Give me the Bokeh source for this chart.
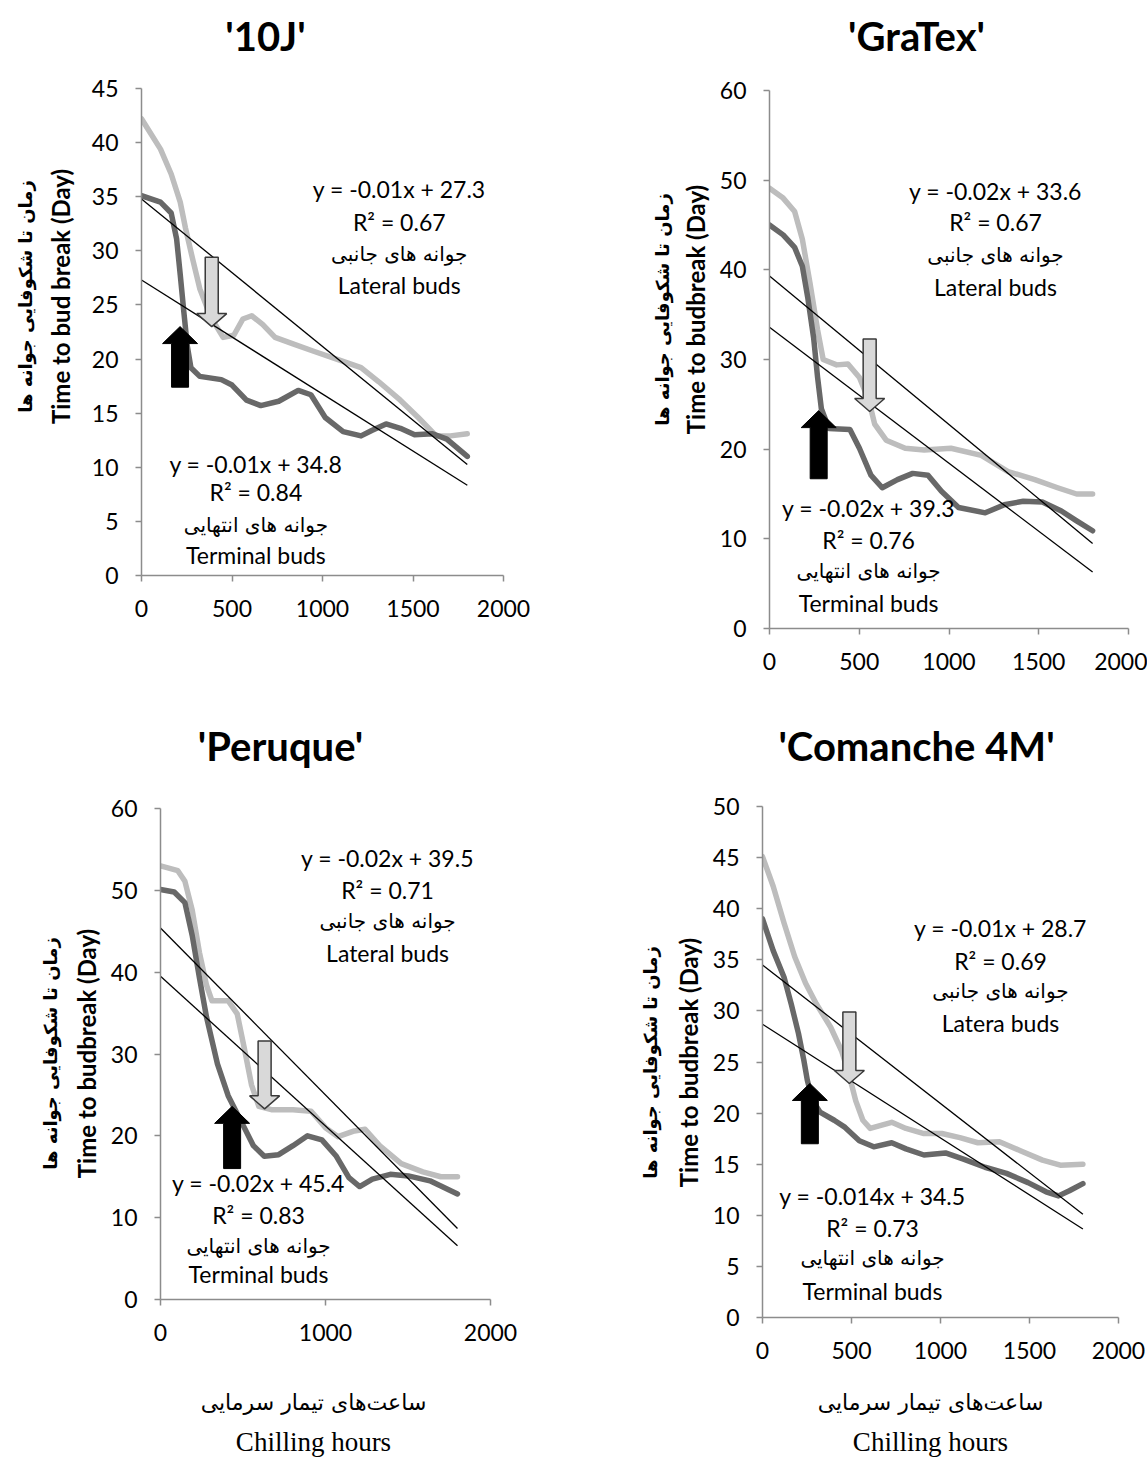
import math
from bokeh.plotting import figure
from bokeh.layouts import column, row
from bokeh.models import Label, SingleIntervalTicker, PolyAnnotation, Range1d
from bokeh.embed import file_html
from bokeh.resources import INLINE

LATIN = "Lato"
PERSIAN = "DejaVu Sans"
LIGHT = "#bdbdbd"
DARK = "#686868"

# ---------------- data ----------------
TITLES = ["'10J'", "'GraTex'", "'Peruque'", "'Comanche 4M'"]
Y_LABEL_FA = "زمان تا شکوفایی جوانه ها"
Y_LABELS_EN = ["Time to bud break (Day)", "Time to budbreak (Day)",
               "Time to budbreak (Day)", "Time to budbreak (Day)"]
X_LABEL_FA = "ساعت‌های تیمار سرمایی"
X_LABEL_EN = "Chilling hours"
LATERAL_FA = "جوانه های جانبی"
TERMINAL_FA = "جوانه های انتهایی"
LATERAL_EN = ["Lateral buds", "Lateral buds", "Lateral buds", "Latera buds"]
TERMINAL_EN = "Terminal buds"

# '10J'
X_10J_TERM = [0, 105, 164, 194, 214, 233, 253, 273, 322, 441, 500, 580, 659, 758, 866, 936,
              1015, 1114, 1213, 1272, 1351, 1430, 1509, 1608, 1687, 1800]
Y_10J_TERM = [35.1, 34.5, 33.5, 31.1, 27.8, 24.5, 21.2, 19.2, 18.4, 18.1, 17.6, 16.2, 15.7, 16.1,
              17.1, 16.7, 14.6, 13.3, 12.9, 13.4, 14.0, 13.6, 13.0, 13.1, 12.6, 11.0]
X_10J_LAT = [0, 105, 164, 214, 243, 283, 322, 382, 451, 510, 560, 609, 669, 738, 837, 955,
             1094, 1213, 1311, 1430, 1529, 1628, 1707, 1800]
Y_10J_LAT = [42.2, 39.4, 37.1, 34.5, 32.1, 29.2, 26.5, 23.9, 22.0, 22.2, 23.7, 24.0, 23.2, 22.0,
             21.4, 20.7, 19.9, 19.2, 17.9, 16.2, 14.6, 12.9, 12.9, 13.1]
EQ_10J_LAT = ["y = -0.01x + 27.3", "R² = 0.67"]
EQ_10J_TERM = ["y = -0.01x + 34.8", "R² = 0.84"]
TREND_10J_B = [34.8, 27.3]
TREND_10J_M = [-0.01363, -0.01053]

# 'GraTex'
X_GT_TERM = [0, 76, 140, 183, 214, 246, 268, 289, 331, 448, 501, 565, 628, 713, 798, 883,
             958, 1053, 1202, 1308, 1414, 1520, 1626, 1711, 1800]
Y_GT_TERM = [45.0, 43.9, 42.5, 40.4, 36.8, 32.4, 28.0, 24.5, 22.3, 22.2, 20.1, 17.1, 15.7, 16.6,
             17.3, 17.1, 15.3, 13.5, 12.9, 13.8, 14.2, 14.1, 13.1, 12.0, 10.9]
X_GT_LAT = [0, 76, 140, 183, 225, 268, 299, 374, 437, 501, 554, 586, 650, 756, 862, 1011,
            1180, 1329, 1478, 1605, 1711, 1800]
Y_GT_LAT = [49.1, 48.0, 46.5, 43.4, 38.6, 33.3, 30.0, 29.4, 29.5, 28.0, 25.4, 22.8, 21.0, 20.1,
            19.9, 20.1, 19.3, 17.5, 16.6, 15.7, 15.0, 15.0]
EQ_GT_LAT = ["y = -0.02x + 33.6", "R² = 0.67"]
EQ_GT_TERM = ["y = -0.02x + 39.3", "R² = 0.76"]
TREND_GT_B = [39.3, 33.6]
TREND_GT_M = [-0.01656, -0.01517]

# 'Peruque'
X_PQ_TERM = [0, 83, 148, 192, 236, 279, 345, 410, 498, 563, 629, 716, 803, 891, 978, 1066,
             1142, 1207, 1284, 1393, 1502, 1633, 1800]
Y_PQ_TERM = [50.1, 49.8, 48.5, 44.5, 39.3, 34.5, 28.8, 24.9, 21.4, 18.8, 17.5, 17.7, 18.8, 20.0,
             19.5, 17.5, 14.9, 13.8, 14.7, 15.3, 15.1, 14.5, 12.9]
X_PQ_LAT = [0, 105, 148, 192, 236, 279, 312, 410, 465, 509, 552, 596, 672, 803, 913, 1000,
            1076, 1175, 1240, 1328, 1459, 1590, 1699, 1800]
Y_PQ_LAT = [53.0, 52.4, 51.1, 47.6, 42.4, 38.4, 36.5, 36.5, 34.9, 30.6, 26.2, 23.6, 23.2, 23.2,
            23.0, 21.0, 19.9, 20.6, 20.8, 18.8, 16.6, 15.6, 15.0, 15.0]
EQ_PQ_LAT = ["y = -0.02x + 39.5", "R² = 0.71"]
EQ_PQ_TERM = ["y = -0.02x + 45.4", "R² = 0.83"]
TREND_PQ_B = [45.4, 39.5]
TREND_PQ_M = [-0.0204, -0.0183]

# 'Comanche 4M'
X_CM_TERM = [0, 60, 121, 161, 202, 232, 252, 282, 323, 403, 464, 544, 625, 726, 806, 907,
             1028, 1129, 1250, 1371, 1492, 1593, 1663, 1724, 1800]
Y_CM_TERM = [39.0, 35.9, 33.3, 30.7, 27.8, 25.2, 23.2, 21.2, 20.1, 19.3, 18.6, 17.3, 16.7, 17.1,
             16.5, 15.9, 16.1, 15.5, 14.7, 14.1, 13.2, 12.3, 11.9, 12.4, 13.1]
X_CM_LAT = [0, 60, 121, 181, 242, 302, 383, 444, 484, 524, 564, 605, 665, 726, 806, 907,
            1008, 1109, 1210, 1331, 1452, 1573, 1673, 1800]
Y_CM_LAT = [45.1, 42.2, 38.6, 35.3, 32.7, 30.7, 28.4, 26.1, 23.9, 21.2, 19.3, 18.5, 18.8, 19.1,
            18.5, 18.0, 18.0, 17.6, 17.1, 17.2, 16.3, 15.4, 14.9, 15.0]
EQ_CM_LAT = ["y = -0.01x + 28.7", "R² = 0.69"]
EQ_CM_TERM = ["y = -0.014x + 34.5", "R² = 0.73"]
TREND_CM_B = [34.5, 28.7]
TREND_CM_M = [-0.01356, -0.01113]

TREND_X = [0, 1800]

# ---------------- layout settings (pixels) ----------------
PANELS = [
    dict(title=TITLES[0], colw=573, th=70, title_xy=(265, 35),
         sw=86, mh=630, bl=55, br=70, bt=18, bb=125, ymax=45, ystep=5, xstep=500,
         ylab_x=(60, 25), ylab_y=404,
         xt=X_10J_TERM, yt=Y_10J_TERM, xl=X_10J_LAT, yl=Y_10J_LAT, b=TREND_10J_B, m=TREND_10J_M,
         eql=EQ_10J_LAT, eqt=EQ_10J_TERM, lat_en=LATERAL_EN[0], yen=Y_LABELS_EN[0],
         lat_pos=(1424, [35.7, 32.7, 29.7, 26.8]), term_pos=(632, [10.3, 7.7, 4.7, 1.85]),
         gray=(388, 29.4, 23.0), black=(213, 17.4, 23.0), bh=0),
    dict(title=TITLES[1], colw=574, th=70, title_xy=(343, 35),
         sw=141, mh=630, bl=55, br=19, bt=20, bb=72, ymax=60, ystep=10, xstep=500,
         ylab_x=(122, 89), ylab_y=391,
         xt=X_GT_TERM, yt=Y_GT_TERM, xl=X_GT_LAT, yl=Y_GT_LAT, b=TREND_GT_B, m=TREND_GT_M,
         eql=EQ_GT_LAT, eqt=EQ_GT_TERM, lat_en=LATERAL_EN[1], yen=Y_LABELS_EN[1],
         lat_pos=(1259, [48.8, 45.3, 41.7, 38.1]), term_pos=(552, [13.4, 9.9, 6.4, 2.8]),
         gray=(558, 32.3, 24.2), black=(274, 16.7, 24.3), bh=0),
    dict(title=TITLES[2], colw=573, th=70, title_xy=(280, 25),
         sw=105, mh=603, bl=55, br=83, bt=38, bb=74, ymax=60, ystep=10, xstep=1000,
         ylab_x=(86, 50), ylab_y=320,
         xt=X_PQ_TERM, yt=Y_PQ_TERM, xl=X_PQ_LAT, yl=Y_PQ_LAT, b=TREND_PQ_B, m=TREND_PQ_M,
         eql=EQ_PQ_LAT, eqt=EQ_PQ_TERM, lat_en=LATERAL_EN[2], yen=Y_LABELS_EN[2],
         lat_pos=(1376, [53.9, 50.0, 46.2, 42.3]), term_pos=(594, [14.2, 10.3, 6.5, 3.1]),
         gray=(631, 31.6, 23.3), black=(434, 16.0, 23.6), bh=84, xlab=(313, 55, 16)),
    dict(title=TITLES[3], colw=574, th=70, title_xy=(343, 25),
         sw=134, mh=603, bl=55, br=29, bt=36, bb=56, ymax=50, ystep=5, xstep=500,
         ylab_x=(115, 77), ylab_y=311,
         xt=X_CM_TERM, yt=Y_CM_TERM, xl=X_CM_LAT, yl=Y_CM_LAT, b=TREND_CM_B, m=TREND_CM_M,
         eql=EQ_CM_LAT, eqt=EQ_CM_TERM, lat_en=LATERAL_EN[3], yen=Y_LABELS_EN[3],
         lat_pos=(1337, [38.1, 34.9, 31.9, 28.8]), term_pos=(618, [11.9, 8.8, 5.8, 2.6]),
         gray=(488, 29.9, 22.9), black=(266, 17.0, 22.9), bh=84, xlab=(357, 55, 16)),
]


def label(p, x, y, s, font, size, units="data", bold=False, angle=0.0):
    p.add_layout(Label(x=x, y=y, x_units=units, y_units=units, text=s, text_font=font,
                       text_font_size=size, text_font_style="bold" if bold else "normal",
                       text_align="center", text_baseline="middle", text_color="#000000",
                       angle=angle))


def strip(w, h):
    s = figure(width=w, height=h, x_range=Range1d(0, 1), y_range=Range1d(0, 1),
               x_axis_type=None, y_axis_type=None, output_backend="svg",
               toolbar_location=None, min_border=0, frame_align=False)
    s.outline_line_color = None
    s.xgrid.visible = False
    s.ygrid.visible = False
    s.border_fill_color = "white"
    return s


def block_arrow(p, cfg, spec, shaft_px, head_px, len_px, fill, line, lw):
    mw = cfg["colw"] - cfg["sw"]
    fw = mw - cfg["bl"] - cfg["br"]
    fh = cfg["mh"] - cfg["bt"] - cfg["bb"]
    kx = fw / 2000.0
    ky = fh / float(cfg["ymax"])
    xc, ytail, ytip = spec
    sgn = 1 if ytip > ytail else -1
    sw = shaft_px / kx / 2
    hw = head_px / kx / 2
    ybase = ytip - sgn * len_px / ky
    xs = [xc - sw, xc - sw, xc - hw, xc, xc + hw, xc + sw, xc + sw]
    ys = [ytail, ybase, ybase, ytip, ybase, ybase, ytail]
    p.add_layout(PolyAnnotation(xs=xs, ys=ys, fill_color=fill, fill_alpha=1.0,
                                line_color=line, line_width=lw, line_alpha=1.0))


def make_main(cfg):
    p = figure(width=cfg["colw"] - cfg["sw"], height=cfg["mh"], x_range=Range1d(0, 2000),
               y_range=Range1d(0, cfg["ymax"]), output_backend="svg", toolbar_location=None,
               min_border_left=cfg["bl"], min_border_right=cfg["br"],
               min_border_top=cfg["bt"], min_border_bottom=cfg["bb"], frame_align=False)
    p.outline_line_color = None
    p.xgrid.visible = False
    p.ygrid.visible = False
    p.border_fill_color = "white"

    p.xaxis.ticker = SingleIntervalTicker(interval=cfg["xstep"])
    p.yaxis.ticker = SingleIntervalTicker(interval=cfg["ystep"])
    for ax in (p.xaxis[0], p.yaxis[0]):
        ax.axis_line_color = "#8c8c8c"
        ax.axis_line_width = 1.5
        ax.major_tick_line_color = "#8c8c8c"
        ax.major_tick_line_width = 1.5
        ax.minor_tick_line_color = None
        ax.major_tick_in = 0
        ax.major_tick_out = 6
        ax.major_label_text_font = LATIN
        ax.major_label_text_font_size = "23px"
        ax.major_label_text_color = "#000000"
    p.xaxis.major_label_standoff = 18
    p.yaxis.major_label_standoff = 17

    # curves
    p.line(cfg["xl"], cfg["yl"], line_width=5.5, line_color=LIGHT, line_join="round", line_cap="round")
    p.line(cfg["xt"], cfg["yt"], line_width=5.5, line_color=DARK, line_join="round", line_cap="round")
    # trend lines
    for b, m in zip(cfg["b"], cfg["m"]):
        p.line(TREND_X, [b + m * x for x in TREND_X], line_width=1.3, line_color="black")

    # arrows
    block_arrow(p, cfg, cfg["gray"], 13, 30, 13, "#d9d9d9", "#3a3a3a", 1.5)
    block_arrow(p, cfg, cfg["black"], 17, 35, 17, "#000000", "#000000", 1)

    # annotations
    lx, lys = cfg["lat_pos"]
    label(p, lx, lys[0], cfg["eql"][0], LATIN, "23px")
    label(p, lx, lys[1], cfg["eql"][1], LATIN, "23px")
    label(p, lx, lys[2], LATERAL_FA, PERSIAN, "20px")
    label(p, lx, lys[3], cfg["lat_en"], LATIN, "23px")
    tx, tys = cfg["term_pos"]
    label(p, tx, tys[0], cfg["eqt"][0], LATIN, "23px")
    label(p, tx, tys[1], cfg["eqt"][1], LATIN, "23px")
    label(p, tx, tys[2], TERMINAL_FA, PERSIAN, "20px")
    label(p, tx, tys[3], TERMINAL_EN, LATIN, "23px")
    return p


def make_panel(cfg):
    title = strip(cfg["colw"], cfg["th"])
    label(title, cfg["title_xy"][0], cfg["title_xy"][1], cfg["title"], LATIN, "40px",
          units="screen", bold=True)

    ys = strip(cfg["sw"], cfg["mh"])
    label(ys, cfg["ylab_x"][0], cfg["ylab_y"], cfg["yen"], LATIN, "24px", units="screen",
          bold=True, angle=math.pi / 2)
    label(ys, cfg["ylab_x"][1], cfg["ylab_y"], Y_LABEL_FA, PERSIAN, "18px", units="screen",
          bold=True, angle=math.pi / 2)

    parts = [title, row(ys, make_main(cfg))]
    if cfg["bh"]:
        bot = strip(cfg["colw"], cfg["bh"])
        x0, y1, y2 = cfg["xlab"]
        label(bot, x0, y1, X_LABEL_FA, PERSIAN, "22px", units="screen")
        label(bot, x0, y2, X_LABEL_EN, "Liberation Serif", "27px", units="screen")
        parts.append(bot)
    return column(*parts)


cols = [make_panel(c) for c in PANELS]
layout = column(row(cols[0], cols[1]), row(cols[2], cols[3]))
open("out.html", "w").write(file_html(layout, INLINE, title="Chilling hours"))
